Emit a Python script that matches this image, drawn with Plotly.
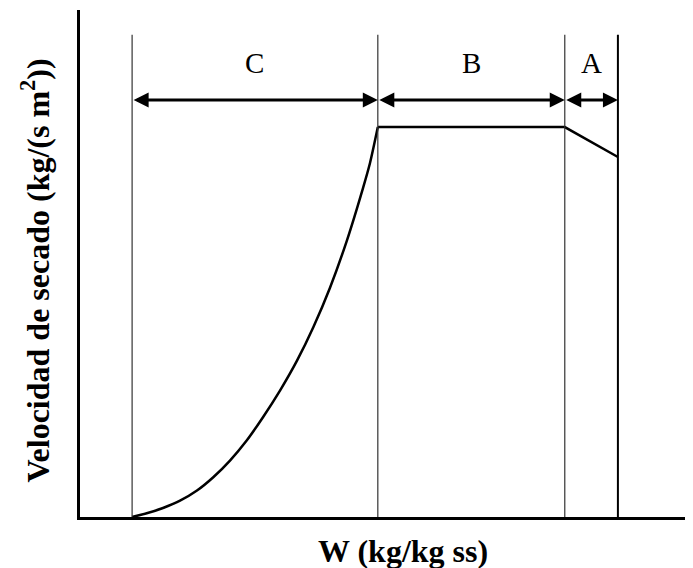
import plotly.graph_objects as go

# Region boundaries on the W axis (start of C, C/B, B/A, end of A)
W_bounds = [0.102, 0.583, 0.949, 1.053]
region_labels = ["C", "B", "A"]

# Falling-rate (C) curve
curve_W = [0.1018, 0.1306, 0.1625, 0.1958, 0.2290, 0.2609, 0.2936, 0.3263, 0.3582,
           0.3915, 0.4248, 0.4567, 0.4894, 0.5221, 0.5540, 0.5677, 0.583]
curve_rate = [0.0, 0.0073, 0.0178, 0.0322, 0.0522, 0.0784, 0.1113, 0.1508, 0.1968,
              0.2493, 0.3083, 0.3743, 0.4523, 0.5443, 0.6488, 0.6982, 0.769]

# Constant-rate (B) and initial (A) segments
plateau_rate = 0.769
end_rate = 0.710

arrow_level = 0.8225
vline_top = 0.951
label_level = 0.895

x_title = "W (kg/kg ss)"
y_title = "Velocidad de secado (kg/(s m<sup>2</sup>))"

FONT = "Liberation Serif"

fig = go.Figure()

# Curve C (smooth)
fig.add_trace(go.Scatter(x=curve_W, y=curve_rate, mode="lines",
                         line=dict(color="black", width=2.5, shape="spline", smoothing=0.8),
                         hoverinfo="skip", showlegend=False))
# Plateau B + segment A
fig.add_trace(go.Scatter(x=[W_bounds[1], W_bounds[2], W_bounds[3]],
                         y=[plateau_rate, plateau_rate, end_rate], mode="lines",
                         line=dict(color="black", width=2.5),
                         hoverinfo="skip", showlegend=False))

# Vertical boundary lines
for i, w in enumerate(W_bounds):
    last = i == len(W_bounds) - 1
    fig.add_trace(go.Scatter(x=[w, w], y=[0, vline_top], mode="lines",
                             line=dict(color="black" if last else "#333333",
                                       width=2 if last else 1.2),
                             hoverinfo="skip", showlegend=False))

# Double-headed arrows and labels
for i, lab in enumerate(region_labels):
    x0, x1 = W_bounds[i], W_bounds[i + 1]
    fig.add_annotation(x=x1, y=arrow_level, ax=x0, ay=arrow_level,
                       xref="x", yref="y", axref="x", ayref="y",
                       text=" ", showarrow=True, arrowhead=2, arrowside="end+start",
                       arrowsize=1, arrowwidth=3, arrowcolor="black", standoff=0,
                       startstandoff=0, font=dict(size=1))
    fig.add_annotation(x=(x0 + x1) / 2, y=label_level, xref="x", yref="y",
                       text=lab, showarrow=False,
                       font=dict(family=FONT, size=29, color="black"))

# Axis titles
fig.add_annotation(x=0.527, y=0, xref="paper", yref="paper", xanchor="center",
                   yanchor="middle", yshift=-34, text=x_title, showarrow=False,
                   font=dict(family=FONT, size=32, color="black", weight="bold"))
fig.add_annotation(x=0, y=0.486, xref="paper", yref="paper", xanchor="center",
                   yanchor="middle", xshift=-45, textangle=-90, text=y_title,
                   showarrow=False,
                   font=dict(family=FONT, size=32, color="black", weight="bold"))

fig.update_layout(
    width=693, height=568,
    margin=dict(l=72, r=8, t=2, b=59),
    paper_bgcolor="white", plot_bgcolor="white",
    showlegend=False,
    xaxis=dict(range=[0, 1.2], showgrid=False, zeroline=False, showticklabels=False,
               ticks="", showline=True, linecolor="black", linewidth=3, automargin=False),
    yaxis=dict(range=[0, 1], showgrid=False, zeroline=False, showticklabels=False,
               ticks="", showline=True, linecolor="black", linewidth=3, automargin=False),
)

fig.write_html("out.html")
